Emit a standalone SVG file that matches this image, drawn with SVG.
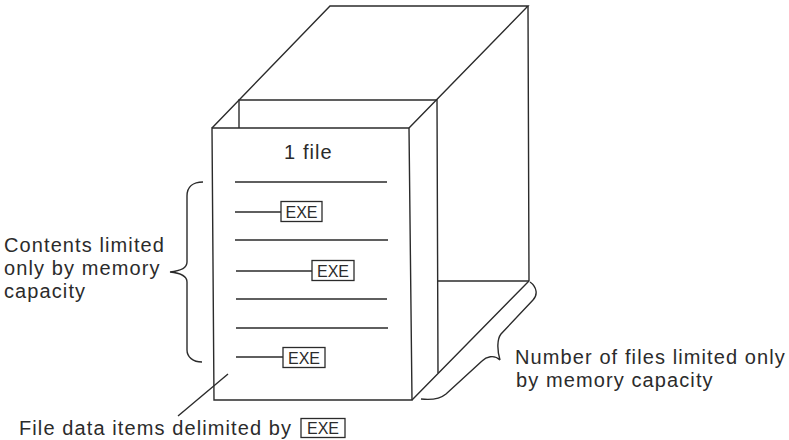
<svg xmlns="http://www.w3.org/2000/svg" width="789" height="440" viewBox="0 0 789 440">
<style>
.ln{fill:none;stroke:#2b2b2b;stroke-width:1.4;stroke-linejoin:miter}
.tx{font-family:"Liberation Sans",Arial,sans-serif;font-size:20px;fill:#2b2b2b;letter-spacing:1.1px}
.bx{fill:#fff;stroke:#2b2b2b;stroke-width:1.3}
.ex{font-family:"Liberation Sans",Arial,sans-serif;font-size:16px;fill:#2b2b2b;text-anchor:middle}
</style>
<rect width="789" height="440" fill="#fff"/>
<g id="cabinet">
<path class="ln" d="M212,128 L330,6 L528,6 L409,128"/>
<path class="ln" d="M528,6 L529,281 L412,400"/>
<path class="ln" d="M239,128 L239,100 L437,100 L438,373"/>
<path class="ln" d="M438,281 L529,281"/>
</g>
<g id="file-page">
<path class="ln" d="M212,128 L409,128 L412,400 L214,400 Z"/>
<text class="tx" x="284" y="159">1 file</text>
<path class="ln" d="M235,182 L387,182 M235,240 L388,240 M236,299 L387,299 M236,328 L388,328"/>
<path class="ln" d="M235,212 L281,212 M236,271 L312,271 M236,357 L283,357"/>
<rect class="bx" x="281" y="201.5" width="41" height="20"/>
<text class="ex" x="301.5" y="217.5">EXE</text>
<rect class="bx" x="312" y="260.5" width="42" height="20"/>
<text class="ex" x="333" y="276.5">EXE</text>
<rect class="bx" x="283" y="347.5" width="42" height="20"/>
<text class="ex" x="304" y="363.5">EXE</text>
</g>
<g id="label-contents">
<text class="tx" x="4" y="252">Contents limited</text>
<text class="tx" x="4" y="275">only by memory</text>
<text class="tx" x="4" y="298">capacity</text>
</g>
<g id="label-files">
<text class="tx" x="515" y="364">Number of files limited only</text>
<text class="tx" x="516" y="387">by memory capacity</text>
</g>
<g id="label-items">
<text class="tx" x="19" y="435">File data items delimited by</text>
<rect class="bx" x="301" y="418.5" width="44" height="19"/>
<text class="ex" x="323" y="434">EXE</text>
</g>
<g id="connectors">
<path class="ln" d="M203,182 C193,182 187,187 187,196 L187,262 C187,268 180,271 170,272 C180,273 187,276 187,282 L187,350 C187,357 193,362 202,362"/>
<path class="ln" d="M530,282 C537,287 538,295 533,300 L501,334 C497,339 497,350 500,360 C494,354 486,357 482,361 L446,394 C440,399 430,400 421,399"/>
<path class="ln" d="M178,416 L228,374"/>
</g>
</svg>
